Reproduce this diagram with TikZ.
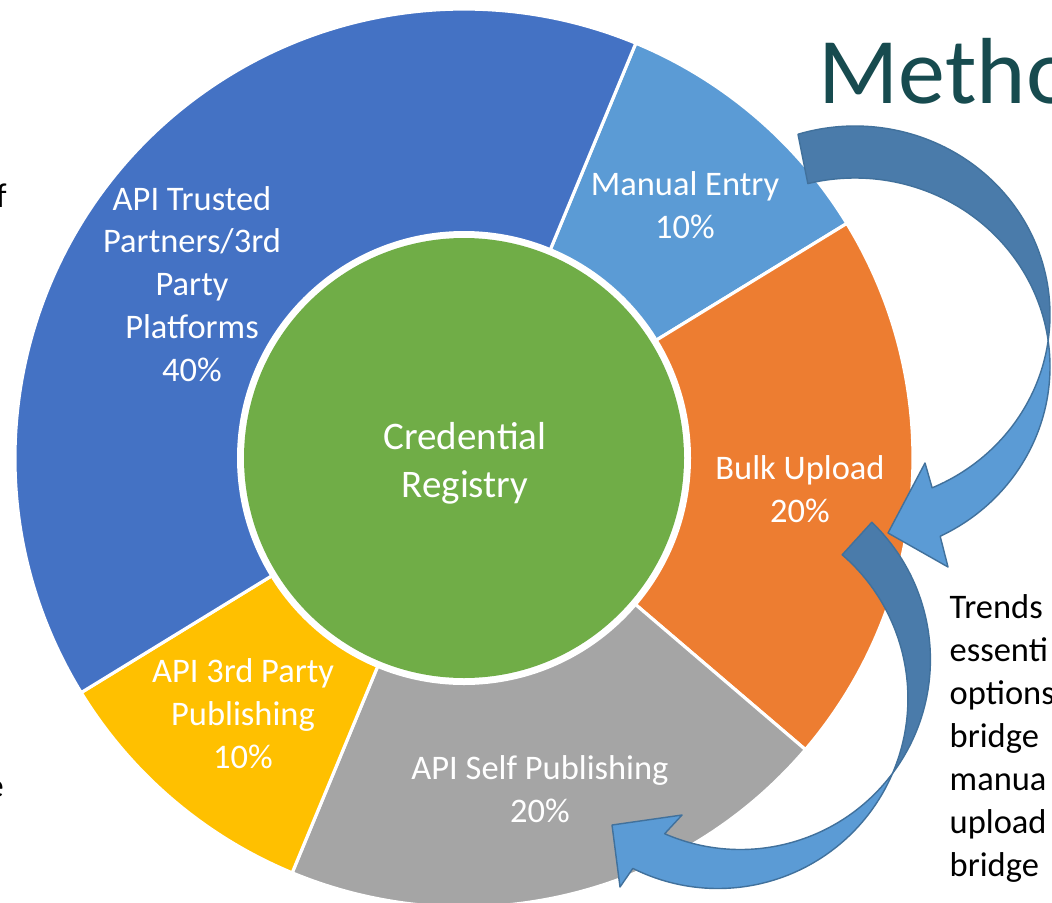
\documentclass[tikz,border=0pt]{standalone}
\usepackage{fontspec}
\setmainfont{Carlito}
\usetikzlibrary{calc}

\definecolor{trusted}{HTML}{4472C4}
\definecolor{manual}{HTML}{5B9BD5}
\definecolor{bulk}{HTML}{ED7D31}
\definecolor{selfpub}{HTML}{A5A5A5}
\definecolor{thirdpub}{HTML}{FFC000}
\definecolor{registry}{HTML}{70AD47}
\definecolor{arrowback}{HTML}{4A7BAA}
\definecolor{arrowfront}{HTML}{5B9BD5}
\definecolor{arrowline}{HTML}{41719C}
\definecolor{heading}{HTML}{174B4F}

\tikzset{
  wedge/.style={draw=white, line width=0.9pt, line join=round},
  lbl/.style={text=white, align=center, inner sep=0pt, font=\fontsize{9.8}{12.2}\selectfont},
  sidetext/.style={text=black, inner sep=0pt, font=\fontsize{9.8}{12.2}\selectfont},
  backface/.style={fill=arrowback, draw=arrowline, line width=0.4pt, line join=round},
  frontface/.style={fill=arrowfront, draw=arrowline, line width=0.4pt, line join=round}
}

\begin{document}
\begin{tikzpicture}[x=0.01cm, y=0.01cm]
        \path[use as bounding box, fill=white] (0,0) rectangle (1052,902);

        \coordinate (O) at (464,444);

        % donut
        \foreach \from/\to/\col in {67.5/31.5/manual, 31.5/-40.5/bulk, -40.5/-112.5/selfpub, -112.5/-148.5/thirdpub, -148.5/-292.5/trusted}
          \filldraw[wedge, fill=\col] (O) -- ++(\from:449) arc[start angle=\from, end angle=\to, radius=449] -- cycle;

        \fill[white] (O) circle[radius=227];
        \fill[registry] (O) circle[radius=220];

        \node[lbl] (trust) at (192,618) {API Trusted\\Partners/3rd\\Party\\Platforms\\40\%};
        \node[lbl] (entry) at (685,697) {Manual Entry\\10\%};
        \node[lbl] (upload) at (800,413) {Bulk Upload\\20\%};
        \node[lbl] (self) at (540,113) {API Self Publishing\\20\%};
        \node[lbl] (third) at (243,188) {API 3rd Party\\Publishing\\10\%};
        \node[lbl, font=\fontsize{11.1}{13.7}\selectfont] (reg) at (465,439) {Credential\\Registry};

        % curved arrow, manual entry -> bulk upload
        \coordinate (A) at (855,587.4);
        \coordinate (B) at (855,535.4);
        \filldraw[backface] ($(A)+(107:195 and 188.6)$)
            arc[start angle=107, end angle=-7.9, x radius=195, y radius=188.6]
            -- ($(B)+(7.9:195 and 188.6)$)
            arc[start angle=7.9, end angle=104, x radius=195, y radius=188.6] -- cycle;
        \filldraw[frontface] ($(A)+(-7.9:195 and 188.6)$)
            arc[start angle=-7.9, end angle=-66.7, x radius=195, y radius=188.6]
            -- (925,439) -- (888,369) -- (948,335)
            -- ($(B)+(-64.1:195 and 188.6)$)
            arc[start angle=-64.1, end angle=7.9, x radius=195, y radius=188.6] -- cycle;

        % curved arrow, bulk upload -> self publishing
        \coordinate (L) at (717.9,203.5);
        \coordinate (U) at (740.4,242.5);
        \filldraw[backface] ($(U)+(46.25:190)$)
            arc[start angle=46.25, end angle=-36.7, radius=190]
            -- ($(L)+(-23.2:190)$)
            arc[start angle=-23.2, end angle=49.15, radius=190] -- cycle;
        \filldraw[frontface] ($(U)+(-36.7:190)$)
            arc[start angle=-36.7, end angle=-113.5, radius=190]
            -- (682,87) -- (612,77) -- (620,15)
            -- ($(L)+(-116.6:190)$)
            arc[start angle=-116.6, end angle=-23.2, radius=190] -- cycle;

        % texts cut by the slide edge
        \node[anchor=base west, inner sep=0pt, text=heading, font=\fontsize{26.7}{32}\selectfont] (title) at (818,799) {Metho};
        \node[sidetext, anchor=west, align=left] (trends) at (949,163.5) {Trends\\essenti\\options\\bridge\\manua\\upload\\bridge};
        \node[sidetext, anchor=base west] (leftf) at (-4.5,695) {f};
        \node[sidetext, anchor=base east] (lefte) at (4.5,105) {e};
\end{tikzpicture}
\end{document}
